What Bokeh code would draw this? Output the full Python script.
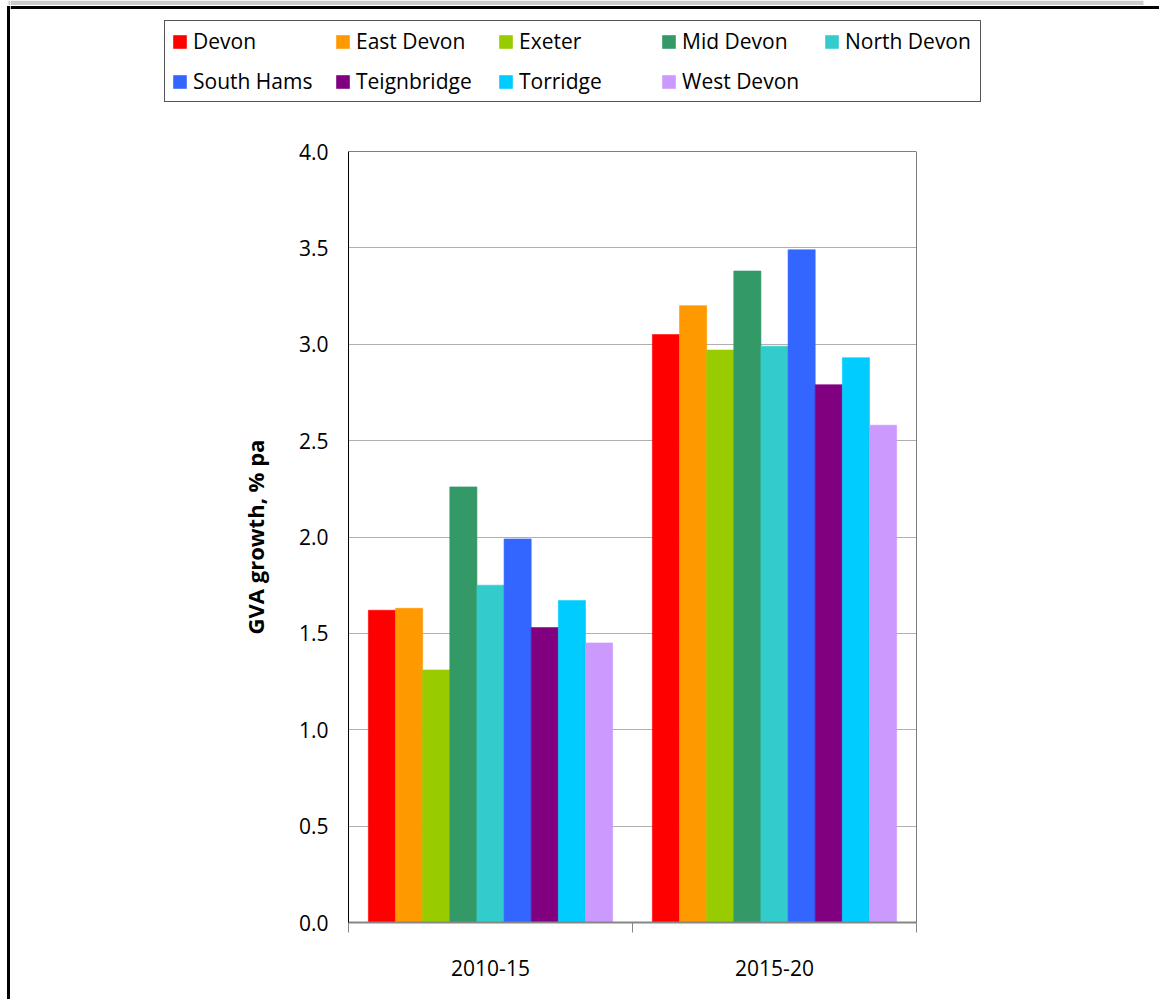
from bokeh.plotting import figure
from bokeh.layouts import row, column
from bokeh.models import (ColumnDataSource, Range1d, FixedTicker, PrintfTickFormatter,
                          Legend, LegendItem, Span)
from bokeh.transform import dodge
from bokeh.embed import file_html
from bokeh.resources import INLINE

# GVA growth by district, % per annum
periods = ["2010-15", "2015-20"]
districts = ["Devon", "East Devon", "Exeter", "Mid Devon", "North Devon",
             "South Hams", "Teignbridge", "Torridge", "West Devon"]
growth_2010_15 = [1.62, 1.63, 1.31, 2.26, 1.75, 1.99, 1.53, 1.67, 1.45]
growth_2015_20 = [3.05, 3.20, 2.97, 3.38, 2.99, 3.49, 2.79, 2.93, 2.58]
colors = ["#FF0000", "#FF9900", "#99CC00", "#339966", "#33CCCC",
          "#3366FF", "#800080", "#00CCFF", "#CC99FF"]
y_ticks = [0.0, 0.5, 1.0, 1.5, 2.0, 2.5, 3.0, 3.5, 4.0]

FONT = "Open Sans"
PAGE_W, PAGE_H = 1159, 999
LEFT_W = 10
TOP_H = 118


def blank(width, height, x0, x1, y0, y1):
    """A figure with no axes whose frame fills the canvas (y grows downward)."""
    f = figure(width=width, height=height, output_backend="svg", toolbar_location=None,
               x_range=Range1d(x0, x1), y_range=Range1d(y1, y0),
               min_border=0, x_axis_location=None, y_axis_location=None)
    f.grid.visible = False
    f.outline_line_color = None
    f.background_fill_color = "white"
    f.border_fill_color = "white"
    f.frame_align = False
    return f


# left page edge
left = blank(LEFT_W, PAGE_H, 0, LEFT_W, 0, PAGE_H)
left.quad(left=[8], right=[LEFT_W], top=[0], bottom=[4.5], fill_color="#cccccc", line_color=None)
left.quad(left=[6.5], right=[9.5], top=[5.5], bottom=[PAGE_H], fill_color="black", line_color=None)

# header strip, top page edge and legend
top = blank(PAGE_W - LEFT_W, TOP_H, LEFT_W, PAGE_W, 0, TOP_H)
top.quad(left=[LEFT_W], right=[1143], top=[0], bottom=[4.5], fill_color="#cccccc", line_color=None)
top.quad(left=[LEFT_W], right=[PAGE_W], top=[5.5], bottom=[8.5], fill_color="black", line_color=None)

# legend swatches: one square per district, parked outside the visible area
swatch_src = ColumnDataSource({"l": [-50], "r": [-40], "t": [-50], "b": [-40]})
swatches = [top.quad(left="l", right="r", top="t", bottom="b", source=swatch_src,
                     fill_color=c, line_color=None) for c in colors]
legend = Legend(items=[LegendItem(label=d, renderers=[r]) for d, r in zip(districts, swatches)],
                location=(164 - LEFT_W, TOP_H - 102), orientation="horizontal", nrows=2,
                glyph_width=17, glyph_height=17, label_standoff=5, label_width=129,
                spacing=12, padding=6, margin=0,
                label_text_font=FONT, label_text_font_size="21px",
                label_text_color="black",
                border_line_color="#555555", border_line_width=1.5, border_line_alpha=1.0,
                background_fill_color="white", background_fill_alpha=1.0)
top.add_layout(legend, "center")

# main chart
data = {"x": list(range(len(periods)))}
for i, d in enumerate(districts):
    data[d] = [growth_2010_15[i], growth_2015_20[i]]
source = ColumnDataSource(data)

p = figure(width=PAGE_W - LEFT_W, height=PAGE_H - TOP_H, output_backend="svg",
           toolbar_location=None,
           x_range=Range1d(-0.5, len(periods) - 0.5), y_range=Range1d(0, 4),
           min_border_left=348 - LEFT_W, min_border_right=PAGE_W - 916,
           min_border_top=151 - TOP_H, min_border_bottom=PAGE_H - 922)
p.outline_line_color = None
p.background_fill_color = "white"
p.border_fill_color = "white"
p.frame_align = False

group_width = 0.86
bar_w = group_width / len(districts)
for i, d in enumerate(districts):
    off = (i - (len(districts) - 1) / 2) * bar_w
    p.vbar(x=dodge("x", off), top=d, width=bar_w, bottom=0, source=source,
           fill_color=colors[i], line_color=colors[i], line_width=0.6)

# x axis: labels at category centres, tick marks at category boundaries
xa = p.xaxis[0]
xa.ticker = FixedTicker(ticks=list(range(len(periods))),
                        minor_ticks=[k - 0.5 for k in range(len(periods) + 1)])
xa.major_label_overrides = {k: periods[k] for k in range(len(periods))}
xa.major_tick_line_color = None
xa.major_tick_in = 0
xa.major_tick_out = 0
xa.minor_tick_in = 0
xa.minor_tick_out = 10
xa.minor_tick_line_color = "#868686"
xa.axis_line_color = "#868686"
xa.axis_line_width = 2
xa.major_label_standoff = 27
xa.major_label_text_font = FONT
xa.major_label_text_font_size = "21px"
xa.major_label_text_color = "black"
p.xgrid.visible = False

ya = p.yaxis[0]
ya.ticker = FixedTicker(ticks=y_ticks, minor_ticks=[])
ya.formatter = PrintfTickFormatter(format="%.1f")
ya.major_tick_line_color = None
ya.minor_tick_line_color = None
ya.major_tick_in = 0
ya.major_tick_out = 0
ya.axis_line_color = "black"
ya.major_label_standoff = 20
ya.major_label_text_font = FONT
ya.major_label_text_font_size = "21px"
ya.major_label_text_color = "black"
ya.axis_label = "GVA growth, % pa"
ya.axis_label_text_font = FONT
ya.axis_label_text_font_size = "22px"
ya.axis_label_text_font_style = "bold"
ya.axis_label_text_color = "black"
ya.axis_label_standoff = 26
p.ygrid.grid_line_color = "#b0b0b0"
p.ygrid.grid_line_width = 1

# top and right edges of the plot area
p.add_layout(Span(location=4.0, dimension="width", line_color="black", line_width=1))
p.add_layout(Span(location=len(periods) - 0.5, dimension="height",
                  line_color="black", line_width=1))

page = row(left, column(top, p, spacing=0), spacing=0)
open("out.html", "w").write(file_html(page, INLINE))
